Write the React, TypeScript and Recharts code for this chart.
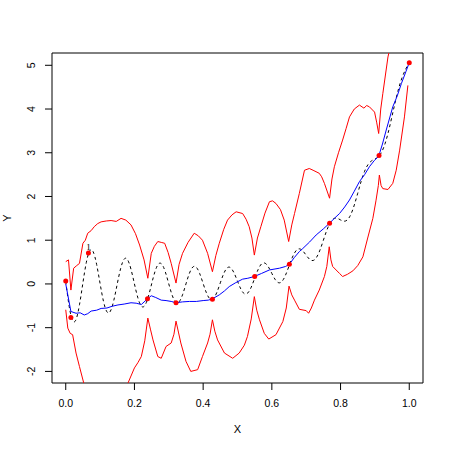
import { ComposedChart, Line, Scatter, XAxis, YAxis, ReferenceArea, ReferenceDot, Label } from "recharts"

// true function, sampled on a 0.01 grid
const gridX = [
  0, 0.01, 0.02, 0.03, 0.04, 0.05, 0.06, 0.07, 0.08, 0.09,
  0.1, 0.11, 0.12, 0.13, 0.14, 0.15, 0.16, 0.17, 0.18, 0.19,
  0.2, 0.21, 0.22, 0.23, 0.24, 0.25, 0.26, 0.27, 0.28, 0.29,
  0.3, 0.31, 0.32, 0.33, 0.34, 0.35, 0.36, 0.37, 0.38, 0.39,
  0.4, 0.41, 0.42, 0.43, 0.44, 0.45, 0.46, 0.47, 0.48, 0.49,
  0.5, 0.51, 0.52, 0.53, 0.54, 0.55, 0.56, 0.57, 0.58, 0.59,
  0.6, 0.61, 0.62, 0.63, 0.64, 0.65, 0.66, 0.67, 0.68, 0.69,
  0.7, 0.71, 0.72, 0.73, 0.74, 0.75, 0.76, 0.77, 0.78, 0.79,
  0.8, 0.81, 0.82, 0.83, 0.84, 0.85, 0.86, 0.87, 0.88, 0.89,
  0.9, 0.91, 0.92, 0.93, 0.94, 0.95, 0.96, 0.97, 0.98, 0.99, 1,
]
const trueY = [
  0.063, -0.512, -0.836, -0.812, -0.476, 0.026, 0.495, 0.76, 0.734, 0.443,
  0.008, -0.402, -0.638, -0.622, -0.374, 0.002, 0.359, 0.567, 0.553, 0.334,
  0.0, -0.319, -0.506, -0.495, -0.3, 0.0, 0.288, 0.457, 0.449, 0.272,
  0.0, -0.262, -0.417, -0.409, -0.248, 0.002, 0.243, 0.387, 0.382, 0.236,
  0.008, -0.212, -0.342, -0.333, -0.192, 0.026, 0.238, 0.368, 0.37, 0.252,
  0.063, -0.12, -0.224, -0.206, -0.073, 0.13, 0.329, 0.458, 0.476, 0.389,
  0.24, 0.098, 0.027, 0.063, 0.205, 0.41, 0.614, 0.756, 0.803, 0.756,
  0.656, 0.563, 0.536, 0.607, 0.774, 1.0, 1.228, 1.403, 1.493, 1.502,
  1.464, 1.435, 1.467, 1.59, 1.804, 2.074, 2.348, 2.577, 2.731, 2.813,
  2.856, 2.909, 3.021, 3.22, 3.503, 3.842, 4.187, 4.495, 4.737, 4.916, 5.063,
]

// observations
const obsX = [0.0, 0.015, 0.066, 0.238, 0.321, 0.427, 0.55, 0.651, 0.768, 0.912, 1.0]
const obsY = [0.07, -0.77, 0.71, -0.34, -0.43, -0.35, 0.17, 0.45, 1.39, 2.94, 5.06]

// posterior mean
const meanX = [
  0, 0.015, 0.03, 0.042, 0.054, 0.064, 0.074, 0.09, 0.103, 0.12, 0.135, 0.152, 0.17, 0.19, 0.205, 0.22,
  0.238, 0.249, 0.262, 0.278, 0.292, 0.307, 0.321, 0.34, 0.36, 0.38, 0.4, 0.415, 0.427, 0.447, 0.462,
  0.476, 0.495, 0.515, 0.53, 0.549, 0.57, 0.593, 0.622, 0.64, 0.651, 0.665, 0.68, 0.69, 0.71, 0.729,
  0.75, 0.768, 0.782, 0.797, 0.812, 0.826, 0.84, 0.855, 0.87, 0.884, 0.898, 0.911, 0.922, 0.933, 0.952,
  0.965, 0.977, 0.99, 1.0,
]
const meanY = [
  0.0, -0.63, -0.67, -0.66, -0.71, -0.68, -0.62, -0.6, -0.56, -0.55, -0.51, -0.48, -0.46, -0.43, -0.44, -0.47,
  -0.34, -0.27, -0.31, -0.37, -0.38, -0.4, -0.43, -0.41, -0.4, -0.4, -0.38, -0.37, -0.34, -0.25, -0.16,
  -0.06, 0.03, 0.11, 0.13, 0.17, 0.24, 0.32, 0.36, 0.4, 0.45, 0.6, 0.74, 0.81, 0.96, 1.12,
  1.26, 1.39, 1.5, 1.61, 1.76, 1.92, 2.12, 2.34, 2.5, 2.68, 2.82, 2.92, 3.2, 3.52, 4.05,
  4.3, 4.58, 4.85, 5.06,
]

// upper band
const upperX = [
  0, 0.008, 0.015, 0.023, 0.032, 0.04, 0.05, 0.057, 0.064, 0.074, 0.083, 0.093, 0.103, 0.118, 0.132, 0.147,
  0.161, 0.175, 0.19, 0.203, 0.215, 0.228, 0.239, 0.249, 0.258, 0.268, 0.278, 0.288, 0.298, 0.307, 0.321,
  0.33, 0.34, 0.356, 0.374, 0.386, 0.398, 0.413, 0.427, 0.437, 0.447, 0.46, 0.471, 0.484, 0.496, 0.515,
  0.525, 0.534, 0.542, 0.549, 0.558, 0.568, 0.58, 0.593, 0.602, 0.612, 0.625, 0.636, 0.649, 0.658, 0.666,
  0.68, 0.695, 0.709, 0.72, 0.738, 0.745, 0.753, 0.768, 0.775, 0.782, 0.794, 0.806, 0.816, 0.826, 0.84,
  0.855, 0.868, 0.876, 0.884, 0.899, 0.905, 0.911, 0.917, 0.923, 0.938, 0.95, 0.97, 1.0,
]
const upperY = [
  0.51, 0.55, -0.14, 0.36, 0.42, 0.47, 0.93, 1.0, 1.16, 1.22, 1.31, 1.38, 1.42, 1.44, 1.45, 1.43,
  1.5, 1.46, 1.35, 1.15, 0.89, 0.55, 0.13, 0.7, 0.86, 0.97, 0.95, 0.93, 0.72, 0.47, 0.02,
  0.45, 0.7, 0.95, 1.16, 1.1, 1.0, 0.7, 0.28, 0.65, 0.93, 1.25, 1.46, 1.58, 1.65, 1.61,
  1.48, 1.31, 1.05, 0.66, 1.05, 1.31, 1.62, 1.88, 1.9, 1.84, 1.7, 1.46, 0.97, 1.35, 1.61,
  2.07, 2.6, 2.64, 2.6, 2.53, 2.45, 2.3, 1.96, 2.4, 2.68, 3.0, 3.29, 3.55, 3.82, 4.0,
  4.09, 4.02, 4.08, 4.05, 3.93, 3.7, 3.44, 4.0, 4.35, 5.19, 5.6, 6.0, 5.7,
]

// lower band
const lowerX = [
  0, 0.006, 0.013, 0.02, 0.03, 0.04, 0.07, 0.1, 0.13, 0.16, 0.181, 0.2, 0.21, 0.22, 0.23, 0.239,
  0.247, 0.254, 0.268, 0.278, 0.292, 0.307, 0.315, 0.321, 0.328, 0.335, 0.35, 0.364, 0.384, 0.398, 0.413,
  0.42, 0.427, 0.434, 0.442, 0.462, 0.486, 0.505, 0.52, 0.529, 0.54, 0.549, 0.556, 0.564, 0.578, 0.591,
  0.612, 0.632, 0.642, 0.65, 0.658, 0.666, 0.68, 0.7, 0.707, 0.715, 0.724, 0.738, 0.753, 0.76, 0.767,
  0.772, 0.777, 0.797, 0.806, 0.82, 0.836, 0.85, 0.865, 0.879, 0.894, 0.903, 0.91, 0.913, 0.918, 0.923,
  0.938, 0.952, 0.962, 0.972, 0.986, 0.996,
]
const lowerY = [
  -0.59, -1.01, -1.13, -1.16, -1.58, -1.89, -2.8, -3.2, -3.3, -2.9, -2.27, -1.92, -1.8, -1.66, -1.3, -0.78,
  -1.05, -1.28, -1.66, -1.7, -1.43, -1.35, -1.15, -0.85, -1.1, -1.35, -1.77, -2.0, -1.96, -1.66, -1.35,
  -1.15, -0.82, -1.08, -1.28, -1.58, -1.7, -1.58, -1.4, -1.2, -0.8, -0.29, -0.6, -0.82, -1.13, -1.26,
  -1.16, -0.86, -0.55, -0.05, -0.25, -0.37, -0.58, -0.61, -0.67, -0.55, -0.37, -0.14, 0.17, 0.4, 0.85,
  0.55, 0.4, 0.24, 0.17, 0.22, 0.3, 0.42, 0.62, 1.05, 1.5, 1.9, 2.25, 2.49, 2.25, 2.18,
  2.16, 2.3, 2.6, 3.06, 3.82, 4.54,
]

const xTicks = [0, 0.2, 0.4, 0.6, 0.8, 1]
const yTicks = [-2, -1, 0, 1, 2, 3, 4, 5]
const xDomain = [-0.04, 1.04]
const yDomain = [-2.265, 5.281]
const noteLabel = "1"

const pairs = (xs: number[], ys: number[]) => xs.map((x, i) => ({ x, y: ys[i] }))

const trueData = pairs(gridX, trueY)
const obsData = pairs(obsX, obsY)
const meanData = pairs(meanX, meanY)
const upperData = pairs(upperX, upperY)
const lowerData = pairs(lowerX, lowerY)

const font = "'Liberation Sans', Arial, Helvetica, sans-serif"

function YTick(props: any) {
  const { x, y, payload } = props
  return (
    <text x={x} y={y} transform={`rotate(-90 ${x} ${y})`} textAnchor="middle" fontSize={10.5} fontFamily={font} fill="#000">
      {payload.value}
    </text>
  )
}

export default function App() {
  return (
    <div style={{ position: "absolute", left: 0, top: 0 }}>
      <ComposedChart width={450} height={450} margin={{ top: 53, right: 27, bottom: 0, left: 0 }}>
        <XAxis
          type="number"
          dataKey="x"
          domain={xDomain}
          ticks={xTicks}
          allowDataOverflow
          axisLine={false}
          tickLine={{ stroke: "#000" }}
          tickSize={7}
          tickMargin={10}
          height={67}
          tick={{ fontSize: 10.5, fill: "#000", fontFamily: font }}
          tickFormatter={(v: number) => v.toFixed(1)}
        >
          <Label
            content={({ viewBox }: any) => (
              <text x={viewBox.x + viewBox.width / 2} y={viewBox.y + 50} textAnchor="middle" fontSize={11} fontFamily={font} fill="#000">
                X
              </text>
            )}
          />
        </XAxis>
        <YAxis
          type="number"
          domain={yDomain}
          ticks={yTicks}
          allowDataOverflow
          axisLine={false}
          tickLine={{ stroke: "#000" }}
          tickSize={7}
          tickMargin={10}
          width={52}
          tick={<YTick />}
        >
          <Label
            content={({ viewBox }: any) => {
              const cx = viewBox.x + 11
              const cy = viewBox.y + viewBox.height / 2
              return (
                <text x={cx} y={cy} transform={`rotate(-90 ${cx} ${cy})`} textAnchor="middle" fontSize={11} fontFamily={font} fill="#000">
                  Y
                </text>
              )
            }}
          />
        </YAxis>
        <Line data={upperData} dataKey="y" type="linear" stroke="#ff0000" strokeWidth={1} dot={false} activeDot={false} isAnimationActive={false} />
        <Line data={lowerData} dataKey="y" type="linear" stroke="#ff0000" strokeWidth={1} dot={false} activeDot={false} isAnimationActive={false} />
        <Line data={trueData} dataKey="y" type="natural" stroke="#000" strokeWidth={1} strokeDasharray="3 3" dot={false} activeDot={false} isAnimationActive={false} />
        <Line data={meanData} dataKey="y" type="linear" stroke="#0000ff" strokeWidth={1} dot={false} activeDot={false} isAnimationActive={false} />
        <Scatter
          data={obsData}
          dataKey="y"
          isAnimationActive={false}
          shape={(p: any) => <circle cx={p.cx} cy={p.cy} r={2.5} fill="#ff0000" />}
        />
        <ReferenceDot x={obsX[2]} y={obsY[2]} r={0} fill="none" stroke="none" label={{ value: noteLabel, position: "top", offset: 3, fontSize: 9, fill: "#000" }} />
        <ReferenceArea x1={xDomain[0]} x2={xDomain[1]} y1={yDomain[0]} y2={yDomain[1]} fill="none" stroke="#000" strokeWidth={1} />
      </ComposedChart>
    </div>
  )
}
